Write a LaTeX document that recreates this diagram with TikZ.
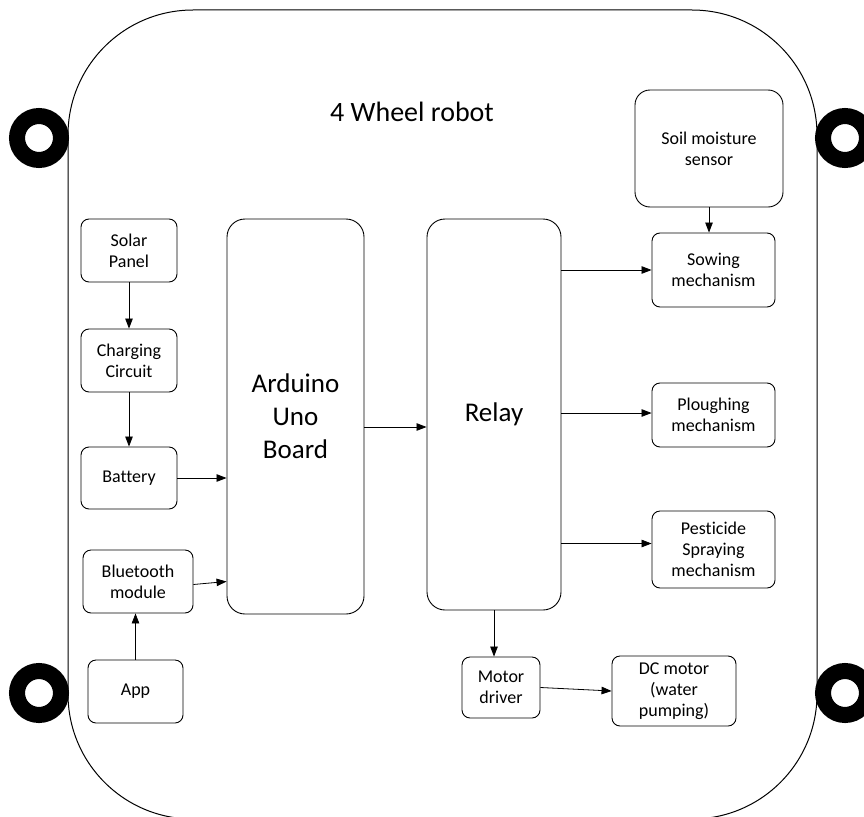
\documentclass[tikz,border=0pt]{standalone}
\usepackage{fontspec}
\setmainfont{Carlito}[Ligatures=NoCommon]
\usepackage{tikz}
\usetikzlibrary{positioning, arrows.meta}

\begin{document}
\begin{tikzpicture}[x=1pt, y=-1pt,
  block/.style={draw, rounded corners=8pt, align=center, line width=0.9pt,
    inner sep=1pt, font=\fontsize{18}{21}\selectfont},
  board/.style={block, rounded corners=18pt,
    font=\fontsize{27}{33}\selectfont},
  flow/.style={-{Triangle[length=10pt, width=7.5pt]}, line width=0.8pt},
  wheel/.style={line width=16pt},
]
  \useasboundingbox (0,0) rectangle (864,816);

  % Robot body and wheels
  \begin{scope}
    \clip (0,0) rectangle (864,816);
    \draw[line width=1pt, rounded corners=125pt] (68,10) rectangle (817,819);
    \draw[wheel] (39,138) circle[radius=22];
    \draw[wheel] (39,693) circle[radius=22];
    \draw[wheel] (845,138) circle[radius=22];
    \draw[wheel] (845,693) circle[radius=22];
  \end{scope}
  \node[font=\fontsize{28}{33}\selectfont] (title) at (412,112) {4 Wheel robot};

  % Power and input side
  \node[block, minimum width=96, minimum height=63] (solar) at (129,250.5)
    {Solar\\Panel};
  \node[block, minimum width=96, minimum height=63] (charge) at (129,360.5)
    {Charging\\Circuit};
  \node[block, minimum width=96, minimum height=62] (battery) at (129,478)
    {Battery};
  \node[block, minimum width=110, minimum height=63] (bt) at (138,581.5)
    {Bluetooth\\module};
  \node[block, minimum width=95, minimum height=63] (app) at (135.5,691.5)
    {App};

  % Controller and relay
  \node[board, minimum width=137, minimum height=395] (arduino) at (295.5,416.5)
    {Arduino\\Uno\\Board};
  \node[board, minimum width=134, minimum height=391] (relay) at (494,414.5)
    {Relay};

  % Outputs
  \node[block, rounded corners=15pt, minimum width=148, minimum height=117]
    (soil) at (709,148.5) {Soil moisture\\sensor};
  \node[block, minimum width=123, minimum height=74] (sowing) at (713.5,270)
    {Sowing\\mechanism};
  \node[block, minimum width=123, minimum height=64] (plough) at (713.5,415)
    {Ploughing\\mechanism};
  \node[block, minimum width=123, minimum height=77] (pest) at (713.5,549.5)
    {Pesticide\\Spraying\\mechanism};
  \node[block, minimum width=78, minimum height=61] (mdriver) at (501,687.5)
    {Motor\\driver};
  \node[block, minimum width=124, minimum height=70] (dcmotor) at (674,691)
    {DC motor\\(water\\pumping)};

  % Arrows
  \draw[flow] (solar) -- (charge);
  \draw[flow] (charge) -- (battery);
  \draw[flow] (battery.east) -- (battery.east -| arduino.west);
  \draw[flow] (app.north) -- (app.north |- bt.south);
  \draw[flow] ([yshift=-3pt]bt.east) -- (bt.east -| arduino.west);
  \draw[flow] ([yshift=-10.5pt]arduino.east) -- ([yshift=-10.5pt]arduino.east -| relay.west);
  \draw[flow] (relay.east |- sowing.west) -- (sowing.west);
  \draw[flow] ([yshift=2pt]relay.east |- plough.west) -- ([yshift=2pt]plough.west);
  \draw[flow] ([yshift=6pt]relay.east |- pest.west) -- ([yshift=6pt]pest.west);
  \draw[flow] (relay.south) -- (relay.south |- mdriver.north);
  \draw[flow] (mdriver.east) -- (dcmotor.west);
  \draw[flow] (soil.south) -- (soil.south |- sowing.north);
\end{tikzpicture}
\end{document}
